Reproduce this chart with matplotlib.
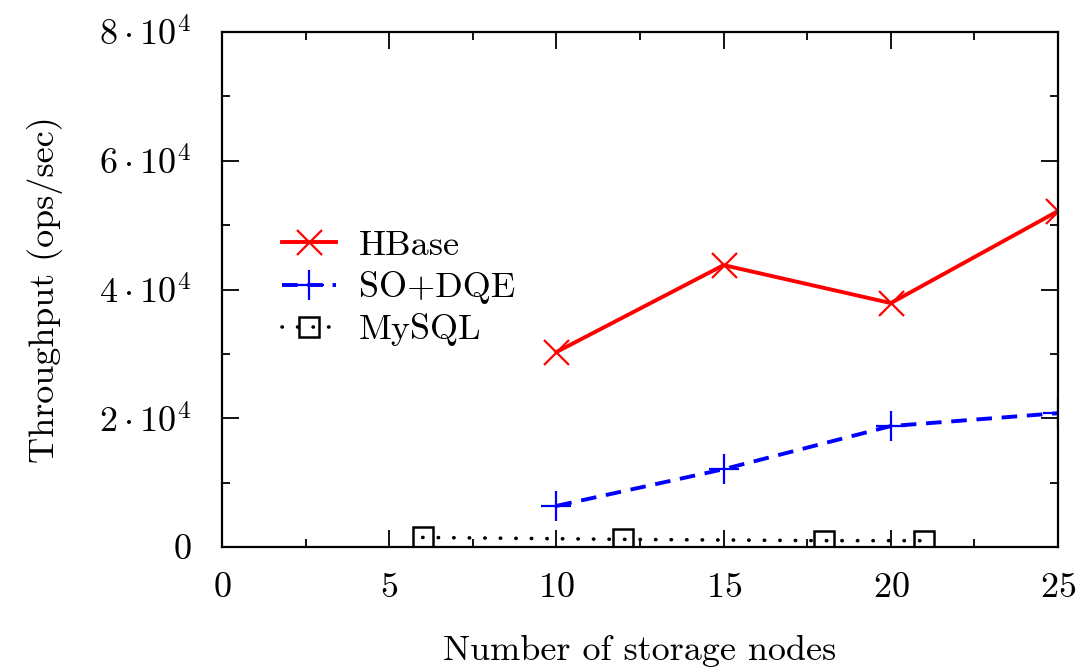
import matplotlib
matplotlib.use("Agg")
import matplotlib.pyplot as plt
from matplotlib.ticker import FuncFormatter, MultipleLocator

# Computer Modern look, like the gnuplot/latex original
plt.rcParams['font.family'] = ['cmr10', 'DejaVu Serif']
plt.rcParams['mathtext.fontset'] = 'cm'
plt.rcParams['axes.formatter.use_mathtext'] = True

# data
hbase_nodes = [10, 15, 20, 25]
hbase_tput = [30300, 43800, 37900, 52200]

sodqe_nodes = [10, 15, 20, 25]
sodqe_tput = [6400, 12100, 18800, 20800]

mysql_nodes = [6, 12, 18, 21]
mysql_tput = [1500, 1200, 1000, 1000]

FS = 26

fig = plt.figure(figsize=(10.91, 6.68), dpi=100)
ax = fig.add_axes([0.2035, 0.181, 0.7663, 0.771])

ax.plot(hbase_nodes, hbase_tput, color='red', lw=2.8, marker='x',
        markersize=18, markeredgewidth=1.6, label='HBase')
ax.plot(sodqe_nodes, sodqe_tput, color='blue', lw=2.8, ls=(0, (4, 2.5)),
        marker='+', markersize=22, markeredgewidth=1.6, label='SO+DQE')
ax.plot(mysql_nodes, mysql_tput, color='black', lw=2.6, ls=(0, (0.1, 4.2)),
        dash_capstyle='round', marker='s', markersize=14, markerfacecolor='none',
        markeredgewidth=1.8, label='MySQL')

ax.set_xlim(0, 25)
ax.set_ylim(0, 80000)
ax.xaxis.set_major_locator(MultipleLocator(5))
ax.xaxis.set_minor_locator(MultipleLocator(2.5))
ax.yaxis.set_major_locator(MultipleLocator(20000))
ax.yaxis.set_minor_locator(MultipleLocator(10000))


def ylab(v, pos):
    if v == 0:
        return '0'
    return r'$%d\cdot 10^{4}$' % round(v / 10000)


ax.yaxis.set_major_formatter(FuncFormatter(ylab))

ax.tick_params(which='both', direction='in', top=True, right=True,
               labelsize=FS, width=1.3)
ax.tick_params(axis='x', pad=18)
ax.tick_params(axis='y', pad=22)
ax.tick_params(which='major', length=12)
ax.tick_params(which='minor', length=6)
for s in ax.spines.values():
    s.set_linewidth(1.6)

ax.set_xlabel('Number of storage nodes', fontsize=FS)
ax.set_ylabel('Throughput (ops/sec)', fontsize=FS)
ax.xaxis.set_label_coords(0.5, -0.17)
ax.yaxis.set_label_coords(-0.19, 0.5)

leg = ax.legend(loc='upper left', bbox_to_anchor=(0.054, 0.644), frameon=False,
                fontsize=FS, handlelength=1.5, handletextpad=0.65,
                labelspacing=0.25, borderaxespad=0)

fig.savefig('out.png', dpi=100)
